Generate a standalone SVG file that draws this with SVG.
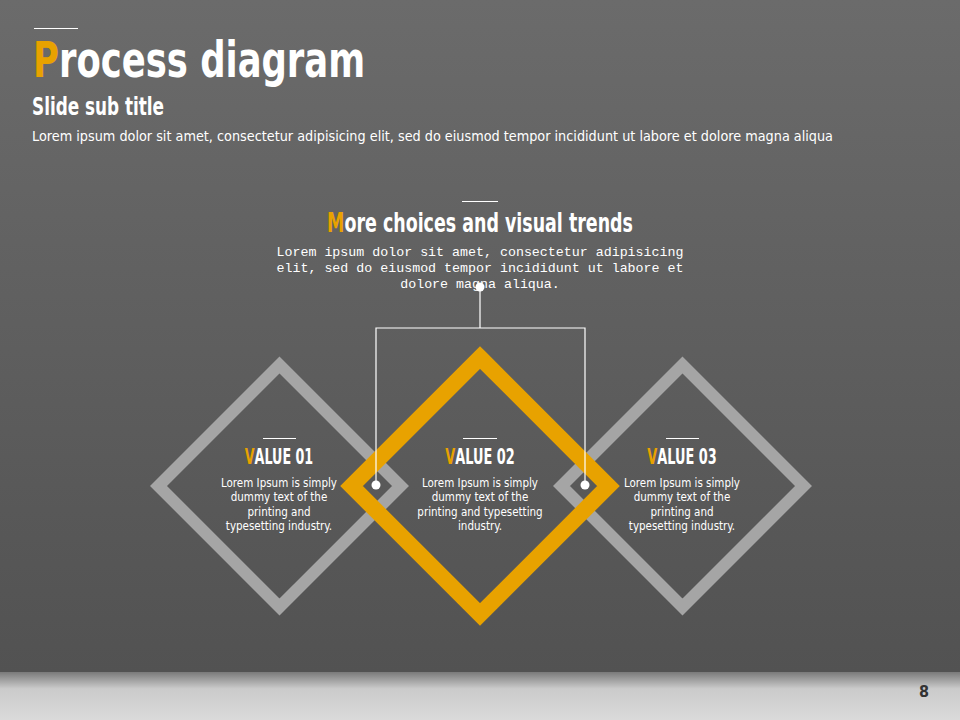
<svg xmlns="http://www.w3.org/2000/svg" width="960" height="720" viewBox="0 0 960 720">
  <defs>
    <linearGradient id="bg" x1="0" y1="0" x2="0" y2="1">
      <stop offset="0" stop-color="#6b6b6b"/>
      <stop offset="1" stop-color="#525252"/>
    </linearGradient>
    <linearGradient id="floor" x1="0" y1="0" x2="0" y2="1">
      <stop offset="0" stop-color="#7a7a7a"/>
      <stop offset="0.35" stop-color="#cbcbcb"/>
      <stop offset="1" stop-color="#dadada"/>
    </linearGradient>
    <style>
      .impact { font-family: "DejaVu Sans Condensed", "Liberation Sans", sans-serif; font-weight: bold; fill: #ffffff; }
      .acc { fill: #e8a200; }
      .body { font-family: "DejaVu Sans", "Liberation Sans", sans-serif; fill: #ffffff; }
      .mono { font-family: "Liberation Mono", "DejaVu Sans Mono", monospace; font-size: 13.3px; fill: #ffffff; }
      .vbody { font-family: "DejaVu Sans Condensed", "DejaVu Sans", sans-serif; font-size: 11.5px; fill: #ffffff; text-anchor: middle; }
      .vtitle { font-size: 20.5px; text-anchor: middle; }
      .rule { stroke: #ffffff; stroke-width: 1; }
      .gray { fill: none; stroke: #a5a5a5; stroke-width: 12; }
      .orange { fill: none; stroke: #e8a200; stroke-width: 16; }
      .conn { fill: none; stroke: #ffffff; stroke-width: 1.2; }
      .dot { fill: #ffffff; }
    </style>
  </defs>

  <!-- background -->
  <rect x="0" y="0" width="960" height="672" fill="url(#bg)"/>
  <rect x="0" y="672" width="960" height="48" fill="url(#floor)"/>

  <!-- header -->
  <g id="header">
    <line class="rule" x1="34" y1="28.5" x2="78" y2="28.5"/>
    <text class="impact" transform="translate(33 77) scale(0.787 1)" x="0" y="0" font-size="50"><tspan class="acc">P</tspan>rocess diagram</text>
    <text class="impact" x="32" y="115" font-size="25" textLength="132" lengthAdjust="spacingAndGlyphs">Slide sub title</text>
    <text class="body" x="32" y="141" font-size="13.5" textLength="801" lengthAdjust="spacingAndGlyphs">Lorem ipsum dolor  sit amet, consectetur adipisicing  elit,  sed do eiusmod tempor incididunt  ut labore  et dolore  magna aliqua</text>
  </g>

  <!-- central topic -->
  <g id="topic">
    <line class="rule" x1="462" y1="201.5" x2="498" y2="201.5"/>
    <text class="impact" transform="translate(480 232) scale(0.746 1)" x="0" y="0" font-size="26" text-anchor="middle"><tspan class="acc">M</tspan>ore choices and visual trends</text>
    <text class="mono" x="480" y="256" text-anchor="middle">Lorem ipsum dolor sit amet, consectetur adipisicing</text>
    <text class="mono" x="480" y="272" text-anchor="middle">elit, sed do eiusmod tempor incididunt ut labore et</text>
    <text class="mono" x="480" y="288" text-anchor="middle">dolore magna aliqua.</text>
  </g>

  <!-- nodes -->
  <g id="value01">
    <path class="gray" d="M279.5 365 L400.5 486 L279.5 607 L158.5 486 Z"/>
  </g>
  <g id="value03">
    <path class="gray" d="M682.5 365 L803.5 486 L682.5 607 L561.5 486 Z"/>
  </g>
  <g id="value02">
    <path class="orange" d="M480 357.5 L608.5 486 L480 614.5 L351.5 486 Z"/>
  </g>

  <!-- connectors -->
  <g id="connectors">
    <path class="conn" d="M480 287 V328 M376 485 V328 H585 V485"/>
    <circle class="dot" cx="480" cy="287" r="4.5"/>
    <circle class="dot" cx="376" cy="485" r="4.5"/>
    <circle class="dot" cx="585" cy="485" r="4.5"/>
  </g>

  <!-- node labels -->
  <g id="value01-label">
    <line class="rule" x1="263" y1="438.5" x2="296" y2="438.5"/>
    <text class="impact vtitle" transform="translate(279 464) scale(0.69 1)" x="0" y="0"><tspan class="acc">V</tspan>ALUE 01</text>
    <text class="vbody" x="279" y="487">Lorem Ipsum is simply</text>
    <text class="vbody" x="279" y="501">dummy text of the</text>
    <text class="vbody" x="279" y="516">printing and</text>
    <text class="vbody" x="279" y="530">typesetting industry.</text>
  </g>
  <g id="value02-label">
    <line class="rule" x1="463" y1="438.5" x2="497" y2="438.5"/>
    <text class="impact vtitle" transform="translate(480 464) scale(0.70 1)" x="0" y="0"><tspan class="acc">V</tspan>ALUE 02</text>
    <text class="vbody" x="480" y="487">Lorem Ipsum is simply</text>
    <text class="vbody" x="480" y="501">dummy text of the</text>
    <text class="vbody" x="480" y="516">printing and typesetting</text>
    <text class="vbody" x="480" y="530">industry.</text>
  </g>
  <g id="value03-label">
    <line class="rule" x1="666" y1="438.5" x2="699" y2="438.5"/>
    <text class="impact vtitle" transform="translate(682 464) scale(0.70 1)" x="0" y="0"><tspan class="acc">V</tspan>ALUE 03</text>
    <text class="vbody" x="682" y="487">Lorem Ipsum is simply</text>
    <text class="vbody" x="682" y="501">dummy text of the</text>
    <text class="vbody" x="682" y="516">printing and</text>
    <text class="vbody" x="682" y="530">typesetting industry.</text>
  </g>

  <!-- page number -->
  <text x="924" y="697" font-family="DejaVu Sans Condensed, sans-serif" font-weight="bold" font-size="16" fill="#333333" text-anchor="middle">8</text>
</svg>
